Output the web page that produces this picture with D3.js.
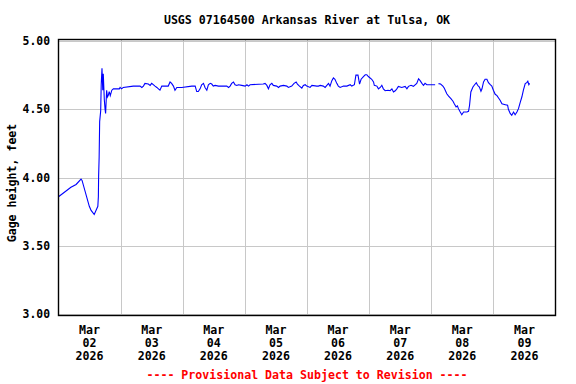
<!DOCTYPE html>
<html lang="en">
<head>
<meta http-equiv="content-type" content="text/html; charset=UTF-8">
    <script src="https://d3js.org/d3.v7.min.js"></script>
    <style>
        body { margin: 0; background: #fff; }
        text { font-family: "DejaVu Sans Mono", monospace; font-weight: bold; }
    </style>
</head>
<body>
    <div id="plot">
        <script>
            // gage readings, hours after 2026-03-02 00:00 (null = gap in record)
            const hours = [
              0, 4.8, 6.8, 8.7, 9.1, 11.9, 12.6, 13.8, 15.2, 15.4, 15.5, 15.7, 15.9, 16.3, 16.5, 16.8,
              17.1, 17.3, 17.7, 18.0, 18.2, 18.6, 18.9, 19.2, 19.6, 20.0, 20.6, 21.2, 23.5, 23.8, 24.4,
              25.0, 28.9, 31.5, 32.2, 32.8, 33.4, 34.7, 35.4, 36.0, 37.3, 38.0, 38.6, 39.2, 39.9, 42.4,
              43.1, 43.7, 44.4, 45.0, 45.7, 47.6, 51.5, 52.8, 53.4, 54.0, 54.7, 55.3, 56.0, 56.6, 57.3,
              57.9, 58.6, 59.2, 59.8, 60.5, 61.8, 65.0, 65.7, 66.3, 66.9, 67.6, 68.2, 68.9, 69.5, 70.8,
              72.1, 72.8, 73.4, 74.0, 79.1, 79.8, 80.5, 81.1, 81.7, 82.4, 83.0, 84.3, 85.0, 85.6, 86.9,
              88.2, 88.8, 90.1, 91.0, 91.8, 92.3, 93.1, 94.0, 94.6, 95.3, 95.9, 97.2, 97.9, 99.8, 100.4,
              101.1, 102.3, 103.0, 104.3, 104.9, 105.6, 106.2, 106.8, 107.5, 108.1, 108.8, 110.1, 111.4,
              112.7, 113.3, 114.3, 114.9, 115.7, 116.3, 116.9, 117.8, 118.5, 119.1, 119.7, 121.0, 121.7,
              122.0, 123.0, 123.6, 124.3, 124.9, 125.5, 126.2, 127.3, 128.1, 128.8, 129.4, 130.1, 130.7,
              131.3, 132.6, 133.9, 134.6, 135.2, 136.2, 137.1, 138.4, 139.1, 139.7, 140.4, 141.0, 141.6,
              142.3, 145.5, 146.2, 146.8, 147.6, 148.5, 149.0, 149.4, 150.0, 150.7, 151.6, 152.4, 152.9,
              153.6, 154.1, 154.5, 155.2, 155.8, 156.5, 157.8, 158.4, 158.8, 159.3, 160.1, 160.6, 161.4,
              161.9, 162.6, 163.2, 163.6, 164.2, 164.8, 165.5, 166.1, 166.8, 167.4, 168.0, 168.7, 169.4,
              170.0, 170.6, 171.3, 172.6, 173.5, 173.8, 174.5, 175.1, 175.8, 176.4, 177.1, 177.7, 178.4,
              179.0, 179.6, 180.3, 180.9, 181.3, 181.7, 182.0
            ];
            const gage = [
              3.86, 3.93, 3.95, 3.99, 3.98, 3.79, 3.76, 3.73, 3.79, 3.86, 4.01, 4.15, 4.41, 4.49, 4.68, 4.80,
              4.64, 4.76, 4.57, 4.50, 4.47, 4.64, 4.59, 4.60, 4.63, 4.60, 4.64, 4.65, 4.65, 4.66, 4.65,
              4.66, 4.67, 4.67, 4.66, 4.67, 4.69, 4.685, 4.675, 4.69, 4.67, 4.66, 4.65, 4.64, 4.67, 4.67,
              4.70, 4.69, 4.67, 4.64, 4.66, 4.66, 4.67, 4.67, 4.63, 4.63, 4.65, 4.68, 4.69, 4.66, 4.64,
              4.68, 4.69, 4.685, 4.67, 4.675, 4.67, 4.67, 4.66, 4.67, 4.69, 4.70, 4.68, 4.675, 4.68, 4.675,
              4.67, 4.68, 4.67, 4.68, 4.685, 4.69, 4.675, 4.65, 4.68, 4.69, 4.675, 4.67, 4.66, 4.67, 4.675,
              4.67, 4.66, 4.67, 4.69, 4.70, 4.685, 4.67, 4.655, 4.675, 4.68, 4.67, 4.66, 4.675, 4.67, 4.67,
              4.675, 4.67, 4.66, 4.69, 4.67, 4.71, 4.73, 4.72, 4.69, 4.67, 4.66, 4.67, 4.67,
              4.68, 4.67, 4.68, 4.75, 4.75, 4.685, 4.72, 4.74, 4.753, 4.753, 4.74, 4.72, 4.70,
              4.676, 4.67, 4.65, 4.66, 4.676, 4.65, 4.636, 4.64, 4.636, 4.65, 4.627, 4.636, 4.65,
              4.668, 4.66, 4.668, 4.65, 4.668, 4.676, 4.668, 4.69, 4.724, 4.71, 4.69, 4.676, 4.69,
              4.68, 4.68, null, 4.688, 4.685, 4.67, 4.656, 4.64, 4.614, 4.597, 4.578, 4.559, 4.54,
              4.517, 4.525, 4.505, 4.48, 4.46, 4.48, 4.48, 4.485, 4.53, 4.627, 4.663, 4.676, 4.695,
              4.676, 4.663, 4.632, 4.65, 4.70, 4.72, 4.72, 4.695, 4.68, 4.67, 4.64, 4.61, 4.60,
              4.583, 4.566, 4.54, 4.534, 4.53, 4.50, 4.47, 4.456, 4.48, 4.46, 4.48, 4.505, 4.553,
              4.59, 4.64, 4.688, 4.695, 4.705, 4.68, 4.69
            ];
            const yTicks = [3.0, 3.5, 4.0, 4.5, 5.0];
            const dayLabels = ["02", "03", "04", "05", "06", "07", "08", "09"];
            const monthLabel = "Mar";
            const yearLabel = "2026";
            const title = "USGS 07164500 Arkansas River at Tulsa, OK";
            const yLabel = "Gage height, feet";
            const footer = "---- Provisional Data Subject to Revision ----";

            function drawChart() {
              const width = 576;
              const height = 384;
              const frame = {left: 58.5, right: 555.5, top: 39.5, bottom: 315.5};
              const start = new Date(2026, 2, 2);
              const hour = 3600 * 1000;

              const data = hours.map((h, i) => ({date: new Date(+start + h * hour), value: gage[i]}));

              const x = d3.scaleTime()
                  .domain([start, new Date(2026, 2, 10)])
                  .range([frame.left, frame.right]);

              const y = d3.scaleLinear()
                  .domain([3, 5])
                  .range([314.3, 41]);

              const svg = d3.select('#plot').append('svg')
                  .attr('width', width)
                  .attr('height', height);

              // grid lines
              const midnights = d3.range(1, 8).map(d => new Date(2026, 2, 2 + d));
              svg.append('g')
                  .selectAll('line')
                  .data(midnights)
                  .join('line')
                    .attr('x1', d => Math.round(x(d)) + 0.5)
                    .attr('x2', d => Math.round(x(d)) + 0.5)
                    .attr('y1', frame.top)
                    .attr('y2', frame.bottom)
                    .attr('stroke', '#c8c8c8');

              svg.append('g')
                  .selectAll('line')
                  .data(yTicks)
                  .join('line')
                    .attr('x1', frame.left)
                    .attr('x2', frame.right)
                    .attr('y1', d => Math.round(y(d)) + 0.5)
                    .attr('y2', d => Math.round(y(d)) + 0.5)
                    .attr('stroke', '#c8c8c8');

              // y axis labels
              svg.append('g')
                  .attr('transform', `translate(${frame.left}, 0)`)
                  .call(d3.axisLeft(y).tickValues(yTicks).tickFormat(d3.format('.2f')).tickSize(0).tickPadding(8.5))
                  .call(g => g.select('.domain').remove())
                  .call(g => g.selectAll('text')
                      .attr('font-family', '"DejaVu Sans Mono", monospace')
                      .attr('font-weight', 'bold')
                      .attr('font-size', 11.4)
                      .attr('fill', '#000'));

              // x axis labels, one per day at noon
              const noons = dayLabels.map((d, i) => new Date(2026, 2, 2 + i, 12));
              const xLabels = svg.append('g')
                  .selectAll('text')
                  .data(noons)
                  .join('text')
                    .attr('text-anchor', 'middle')
                    .attr('font-size', 11.6)
                    .attr('fill', '#000');
              [monthLabel, null, yearLabel].forEach((t, row) => {
                xLabels.append('tspan')
                    .attr('x', d => x(d))
                    .attr('y', 334 + row * 13)
                    .text((d, i) => t === null ? dayLabels[i] : t);
              });

              // the gage series
              const line = d3.line()
                  .defined(d => d.value !== null)
                  .x(d => x(d.date))
                  .y(d => y(d.value));

              svg.append('path')
                  .datum(data)
                  .attr('fill', 'none')
                  .attr('stroke', '#0000ff')
                  .attr('stroke-width', 1.1)
                  .attr('d', line);

              // frame
              svg.append('rect')
                  .attr('x', frame.left)
                  .attr('y', frame.top)
                  .attr('width', frame.right - frame.left)
                  .attr('height', frame.bottom - frame.top)
                  .attr('fill', 'none')
                  .attr('stroke', '#000')
                  .attr('stroke-width', 1.4);

              svg.append('text')
                  .attr('x', (frame.left + frame.right) / 2)
                  .attr('y', 24)
                  .attr('text-anchor', 'middle')
                  .attr('font-size', 11.6)
                  .text(title);

              svg.append('text')
                  .attr('transform', 'translate(16, 183) rotate(-90)')
                  .attr('text-anchor', 'middle')
                  .attr('font-size', 11.6)
                  .text(yLabel);

              svg.append('text')
                  .attr('x', (frame.left + frame.right) / 2)
                  .attr('y', 378.5)
                  .attr('text-anchor', 'middle')
                  .attr('font-size', 11.6)
                  .attr('fill', '#ff0000')
                  .text(footer);
            }

            function init() {
              drawChart();
            }

            window.onload = init;
        </script>
    </div>
</body>
</html>
